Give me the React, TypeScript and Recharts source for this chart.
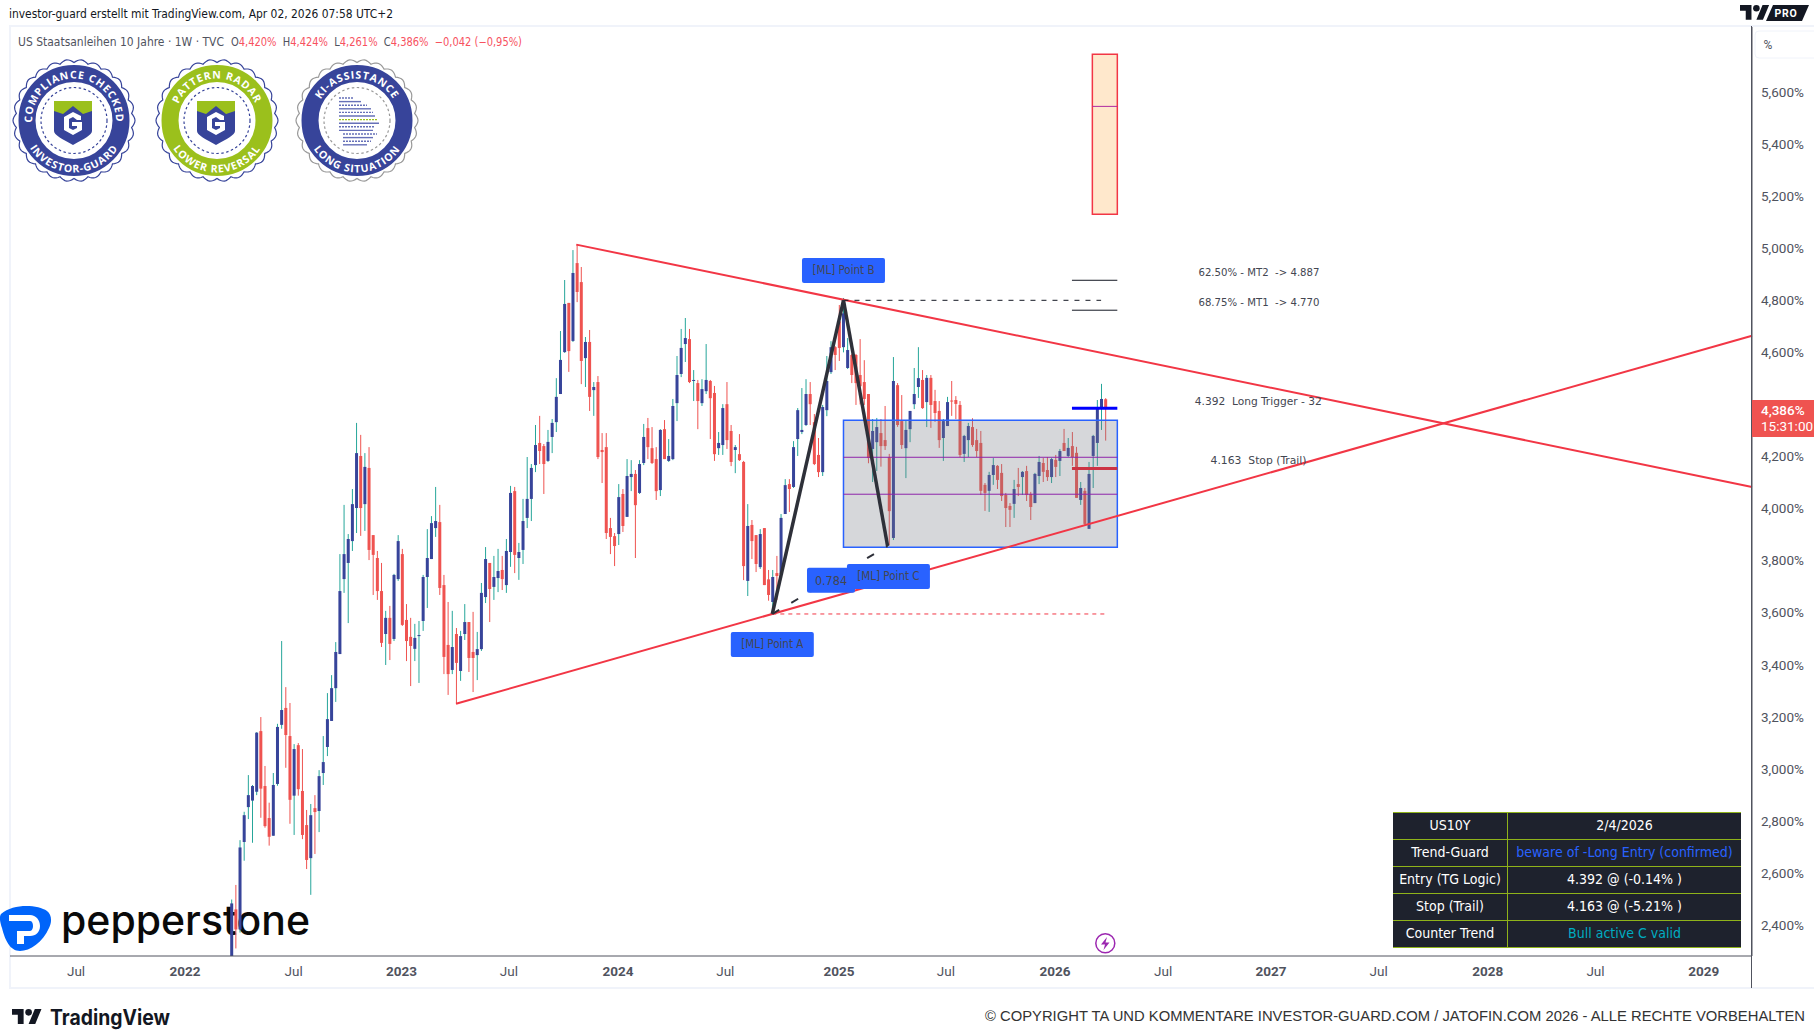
import {
  Bar,
  ComposedChart,
  ReferenceArea,
  ReferenceDot,
  ReferenceLine,
  XAxis,
  YAxis,
} from "recharts";

// weekly candles as [open, high, low, close]
const candles2022 = [
  [2.15, 2.498, 2.13, 2.483], [2.46, 2.554, 2.31, 2.383], [2.383, 2.726, 2.371, 2.698], [2.719, 2.835, 2.647, 2.822],
  [2.853, 2.976, 2.807, 2.899], [2.878, 2.938, 2.716, 2.934], [2.912, 3.141, 2.899, 3.139], [3.145, 3.199, 2.812, 2.924],
  [2.934, 3.011, 2.774, 2.78], [2.811, 2.87, 2.705, 2.739], [2.743, 2.984, 2.743, 2.938], [2.942, 3.173, 2.935, 3.161],
  [3.169, 3.491, 3.154, 3.226], [3.234, 3.314, 3.004, 3.13], [3.126, 3.253, 2.789, 2.881], [2.897, 3.095, 2.746, 3.076],
  [3.091, 3.099, 2.897, 2.922], [2.915, 3.076, 2.73, 2.746], [2.784, 2.842, 2.615, 2.65], [2.657, 2.865, 2.516, 2.822],
  [2.849, 2.899, 2.673, 2.834], [2.838, 2.995, 2.757, 2.972], [2.984, 3.126, 2.938, 3.026], [3.084, 3.291, 3.049, 3.191],
  [3.184, 3.36, 3.184, 3.31], [3.31, 3.487, 3.257, 3.449], [3.441, 3.825, 3.441, 3.683], [3.729, 4.014, 3.676, 3.825],
  [3.791, 3.902, 3.56, 3.883], [3.875, 4.075, 3.837, 4.017], [4.002, 4.329, 3.906, 4.213], [4.202, 4.283, 3.895, 4.002],
  [4.017, 4.213, 3.914, 4.16], [4.156, 4.236, 3.802, 3.841], [3.898, 3.898, 3.668, 3.822], [3.81, 3.837, 3.649, 3.683],
  [3.683, 3.791, 3.468, 3.484], [3.518, 3.607, 3.399, 3.58], [3.58, 3.626, 3.418, 3.48], [3.499, 3.749, 3.491, 3.745],
];
const candles2023 = [
  [3.729, 3.898, 3.722, 3.875], [3.825, 3.845, 3.549, 3.553], [3.572, 3.633, 3.414, 3.491], [3.507, 3.58, 3.318, 3.472],
  [3.461, 3.557, 3.414, 3.503], [3.51, 3.568, 3.33, 3.514], [3.568, 3.745, 3.53, 3.737], [3.737, 3.921, 3.618, 3.81],
  [3.806, 3.971, 3.806, 3.944], [3.925, 4.083, 3.891, 3.952], [3.948, 4.014, 3.668, 3.695], [3.706, 3.745, 3.364, 3.43],
  [3.476, 3.641, 3.284, 3.364], [3.38, 3.607, 3.364, 3.468], [3.518, 3.541, 3.249, 3.407], [3.376, 3.53, 3.338, 3.51],
  [3.518, 3.633, 3.495, 3.564], [3.564, 3.564, 3.372, 3.426], [3.449, 3.603, 3.295, 3.426], [3.437, 3.526, 3.341, 3.46],
  [3.46, 3.714, 3.453, 3.676], [3.66, 3.852, 3.637, 3.806], [3.791, 3.791, 3.564, 3.691], [3.699, 3.818, 3.649, 3.737],
  [3.733, 3.845, 3.679, 3.76], [3.764, 3.818, 3.687, 3.729], [3.706, 3.883, 3.676, 3.837], [3.833, 4.087, 3.776, 4.06],
  [4.067, 4.083, 3.752, 3.822], [3.81, 3.868, 3.726, 3.833], [3.841, 4.037, 3.787, 3.952], [3.964, 4.198, 3.925, 4.037],
  [4.037, 4.171, 3.952, 4.156], [4.167, 4.321, 4.14, 4.244], [4.252, 4.356, 4.171, 4.221], [4.24, 4.248, 4.056, 4.171],
  [4.183, 4.302, 4.179, 4.256], [4.275, 4.344, 4.213, 4.329], [4.332, 4.501, 4.294, 4.429], [4.44, 4.682, 4.44, 4.571],
  [4.601, 4.878, 4.598, 4.786], [4.79, 4.79, 4.525, 4.605], [4.644, 4.993, 4.64, 4.905], [4.943, 5.014, 4.793, 4.832],
  [4.87, 4.928, 4.478, 4.567], [4.578, 4.659, 4.467, 4.64], [4.64, 4.686, 4.375, 4.429], [4.455, 4.486, 4.356, 4.467],
  [4.486, 4.509, 4.19, 4.198], [4.225, 4.29, 4.098, 4.217], [4.236, 4.29, 3.883, 3.906], [3.925, 3.964, 3.825, 3.891],
];
const candles2024 = [
  [3.894, 3.906, 3.779, 3.856], [3.902, 4.094, 3.86, 4.044], [4.056, 4.075, 3.91, 3.933], [3.968, 4.19, 3.968, 4.125],
  [4.121, 4.186, 4.067, 4.133], [4.133, 4.148, 3.81, 4.013], [4.06, 4.186, 4.056, 4.171], [4.175, 4.325, 4.167, 4.275],
  [4.309, 4.348, 4.19, 4.236], [4.232, 4.313, 4.171, 4.175], [4.19, 4.236, 4.033, 4.067], [4.071, 4.305, 4.048, 4.302],
  [4.305, 4.34, 4.19, 4.19], [4.183, 4.267, 4.179, 4.202], [4.19, 4.421, 4.186, 4.394], [4.405, 4.586, 4.336, 4.513],
  [4.517, 4.69, 4.505, 4.617], [4.632, 4.732, 4.563, 4.655], [4.651, 4.69, 4.482, 4.486], [4.49, 4.532, 4.413, 4.494],
  [4.482, 4.494, 4.305, 4.413], [4.405, 4.497, 4.394, 4.459], [4.451, 4.632, 4.44, 4.494], [4.49, 4.494, 4.267, 4.424],
  [4.444, 4.471, 4.183, 4.209], [4.232, 4.294, 4.206, 4.252], [4.244, 4.401, 4.206, 4.386], [4.401, 4.486, 4.229, 4.263],
  [4.298, 4.321, 4.163, 4.179], [4.225, 4.244, 4.136, 4.236], [4.209, 4.286, 4.183, 4.186], [4.179, 4.183, 3.725, 3.779],
  [3.722, 4.017, 3.664, 3.933], [3.937, 3.956, 3.806, 3.875], [3.898, 3.898, 3.756, 3.787], [3.775, 3.921, 3.768, 3.902],
  [3.925, 3.925, 3.706, 3.706], [3.728, 3.764, 3.646, 3.668], [3.641, 3.764, 3.591, 3.737], [3.752, 3.818, 3.649, 3.741],
  [3.748, 3.979, 3.745, 3.964], [3.979, 4.113, 3.979, 4.09], [4.094, 4.113, 3.987, 4.075], [4.083, 4.259, 4.079, 4.236],
  [4.267, 4.386, 4.202, 4.378], [4.294, 4.463, 4.286, 4.302], [4.321, 4.497, 4.317, 4.44], [4.44, 4.486, 4.321, 4.401],
  [4.332, 4.363, 4.167, 4.171], [4.206, 4.271, 4.121, 4.14], [4.14, 4.398, 4.125, 4.39], [4.378, 4.586, 4.355, 4.49],
  [4.524, 4.643, 4.517, 4.62],
];
const candles2025 = [
  [4.62, 4.624, 4.532, 4.59], [4.719, 4.782, 4.567, 4.617], [4.62, 4.809, 4.6, 4.75], [4.54, 4.655, 4.536, 4.609],
  [4.59, 4.594, 4.482, 4.513], [4.59, 4.594, 4.398, 4.482], [4.513, 4.651, 4.4, 4.47], [4.486, 4.57, 4.398, 4.421],
  [4.44, 4.44, 4.174, 4.194], [4.229, 4.344, 4.102, 4.298], [4.255, 4.348, 4.144, 4.313], [4.29, 4.344, 4.161, 4.24],
  [4.263, 4.394, 4.225, 4.24], [4.197, 4.21, 3.86, 3.99], [3.887, 4.582, 3.879, 4.49], [4.474, 4.482, 4.314, 4.321],
  [4.336, 4.436, 4.229, 4.244], [4.232, 4.34, 4.117, 4.302], [4.305, 4.375, 4.255, 4.375], [4.401, 4.54, 4.382, 4.44],
  [4.467, 4.62, 4.425, 4.501], [4.494, 4.532, 4.383, 4.386], [4.409, 4.513, 4.313, 4.502], [4.502, 4.513, 4.31, 4.398],
  [4.413, 4.456, 4.333, 4.367], [4.375, 4.413, 4.233, 4.263], [4.271, 4.344, 4.183, 4.336], [4.317, 4.429, 4.317, 4.409],
  [4.415, 4.49, 4.356, 4.411], [4.417, 4.432, 4.344, 4.402], [4.398, 4.413, 4.198, 4.206], [4.21, 4.283, 4.179, 4.279],
  [4.263, 4.329, 4.198, 4.317], [4.313, 4.347, 4.237, 4.244], [4.263, 4.306, 4.198, 4.221], [4.252, 4.298, 4.052, 4.068],
  [4.091, 4.098, 3.991, 4.06], [4.068, 4.141, 3.987, 4.129], [4.129, 4.194, 4.091, 4.167], [4.164, 4.167, 4.075, 4.11],
  [4.137, 4.171, 4.029, 4.048], [4.052, 4.06, 3.929, 4.002], [4.01, 4.021, 3.929, 3.995], [4.018, 4.11, 3.964, 4.075],
  [4.094, 4.156, 4.048, 4.083], [4.121, 4.144, 4.052, 4.141], [4.144, 4.164, 4.029, 4.052], [4.056, 4.064, 3.956, 4.006],
  [4.021, 4.137, 4.021, 4.133], [4.125, 4.202, 4.094, 4.179], [4.175, 4.194, 4.102, 4.141], [4.148, 4.198, 4.106, 4.121],
];
const candles2026 = [
  [4.121, 4.194, 4.098, 4.19], [4.187, 4.206, 4.121, 4.16], [4.183, 4.229, 4.125, 4.221], [4.252, 4.306, 4.221, 4.221],
  [4.202, 4.271, 4.198, 4.233], [4.24, 4.294, 4.164, 4.198], [4.214, 4.237, 4.041, 4.041], [4.033, 4.102, 4.014, 4.079],
  [4.068, 4.079, 3.937, 3.941], [3.922, 4.179, 3.922, 4.133], [4.202, 4.283, 4.079, 4.279], [4.252, 4.417, 4.164, 4.383],
  [4.386, 4.479, 4.302, 4.421], [4.42, 4.424, 4.261, 4.386],
];

// 4,400% sits under the live price tag, so it isn't listed
const priceTicks = [2.4, 2.6, 2.8, 3, 3.2, 3.4, 3.6, 3.8, 4, 4.2, 4.6, 4.8, 5, 5.2, 5.4, 5.6];
const weekTicks = [-37.3, -11.1, 15, 40.9, 66.7, 92.9, 118.7, 146, 171.7, 197.9, 223.9, 249.8, 275.7, 301.9, 327.8, 353.8];
const weekTickLabels = ["Jul", "2022", "Jul", "2023", "Jul", "2024", "Jul", "2025", "Jul", "2026", "Jul", "2027", "Jul", "2028", "Jul", "2029"];

const weekDomain = [-53.17, 365.4];
const priceDomain = [2.281, 5.85];

// drawn objects, in [week, price]
const upperTrend = [[82.9, 5.014], [365.4, 4.083]];
const lowerTrend = [[54, 3.25], [365.4, 4.664]];
const pointA = [130, 3.595];
const pointB = [147.1, 4.8];
const pointC = [157.7, 3.856];
const tradeBox = { from: 147.1, to: 212.9, top: 4.339, bottom: 3.851, lines: [4.197, 4.055] };
const targetBox = { from: 206.9, to: 212.9, top: 5.745, bottom: 5.131, mid: 5.545 };
const targets = [4.877, 4.762];
const targetSpan = [202, 212.9];
const triggerLevel = 4.385;
const stopLevel = 4.154;
const levelSpan = [202, 212.9];

const blueTags = [
  { week: 130, price: 3.478, text: "[ML] Point A", w: 83, size: 11.5 },
  { week: 147.1, price: 4.915, text: "[ML] Point B", w: 83, size: 11.5 },
  { week: 144.1, price: 3.725, text: "0.784", w: 48, size: 12.5 },
  { week: 157.9, price: 3.739, text: "[ML] Point C", w: 83, size: 11.5 },
];
const sideNotes = [
  { week: 232.4, price: 4.906, text: "62.50% - MT2  -> 4.887", len: 121 },
  { week: 232.4, price: 4.791, text: "68.75% - MT1  -> 4.770", len: 121 },
  { week: 231.5, price: 4.413, text: "4.392  Long Trigger - 32", len: 127 },
  { week: 235.3, price: 4.184, text: "4.163  Stop (Trail)", len: 96 },
];

const tableRows = [
  { name: "US10Y", value: "2/4/2026", color: "#ffffff" },
  { name: "Trend-Guard", value: "beware of -Long Entry (confirmed)", color: "#2962ff" },
  { name: "Entry (TG Logic)", value: "4.392 @ (-0.14% )", color: "#ffffff" },
  { name: "Stop (Trail)", value: "4.163 @ (-5.21% )", color: "#ffffff" },
  { name: "Counter Trend", value: "Bull active C valid", color: "#00acc1" },
];

const candleRows = [...candles2022, ...candles2023, ...candles2024, ...candles2025, ...candles2026].map((c, i) => ({
  week: i,
  open: c[0],
  high: c[1],
  low: c[2],
  close: c[3],
  range: [c[2], c[1]],
}));

const UI_FONT = "'DejaVu Sans Condensed', 'DejaVu Sans', sans-serif";
const AXIS_FONT = "Roboto, sans-serif";
const RED = "#f23645";
const UP_BODY = "#37449a";
const UP_WICK = "#26a69a";
const DOWN = "#ef5350";
const AXIS = "#50535e";
const WAVE = "#2e3039";

function Candle(props: any) {
  const { x, y, width, height, payload } = props;
  const up = payload.close >= payload.open;
  const mid = x + width / 2;
  const perUnit = height / (payload.high - payload.low);
  const bodyTop = y + (payload.high - Math.max(payload.open, payload.close)) * perUnit;
  const bodyH = Math.max(1, Math.abs(payload.close - payload.open) * perUnit);
  return (
    <g>
      <line x1={mid} x2={mid} y1={y} y2={y + height} stroke={up ? UP_WICK : DOWN} strokeWidth={1} />
      <rect x={mid - 1.5} y={bodyTop} width={3} height={bodyH} fill={up ? UP_BODY : DOWN} />
    </g>
  );
}

function WeekTick(props: any) {
  const { x, y, payload } = props;
  const i = weekTicks.indexOf(payload.value);
  const label = weekTickLabels[i];
  const isYear = label !== "Jul";
  return (
    <text x={x} y={y + 8} textAnchor="middle" fill={AXIS} fontSize={13.5} fontFamily={AXIS_FONT} fontWeight={isYear ? 700 : 400} dominantBaseline="middle">
      {label}
    </text>
  );
}

function BlueTag(props: any) {
  const { cx, cy, tag } = props;
  return (
    <g>
      <rect x={cx - tag.w / 2} y={cy - 12.5} width={tag.w} height={25} rx={2} fill="#2962ff" />
      <text x={cx} y={cy} textAnchor="middle" dominantBaseline="central" fill="#434651" fontSize={tag.size} fontFamily={UI_FONT}>
        {tag.text}
      </text>
    </g>
  );
}

function SideNote(props: any) {
  const { cx, cy, note } = props;
  return (
    <text x={cx} y={cy} dominantBaseline="central" fill="#434651" fontSize={11} fontFamily={UI_FONT} textLength={note.len} lengthAdjust="spacingAndGlyphs" xmlSpace="preserve">
      {note.text}
    </text>
  );
}

function scallopPath(cx: number, cy: number, r: number, bumps: number, amp: number) {
  let d = "";
  for (let i = 0; i <= bumps * 8; i++) {
    const a = (i / (bumps * 8)) * Math.PI * 2;
    const rr = r + amp * Math.abs(Math.cos((a * bumps) / 2));
    d += (i === 0 ? "M" : "L") + (cx + rr * Math.cos(a)).toFixed(1) + " " + (cy + rr * Math.sin(a)).toFixed(1);
  }
  return d + "Z";
}

function Shield({ cx, cy }: { cx: number; cy: number }) {
  return (
    <g transform={`translate(${cx - 20} ${cy - 22})`}>
      <path d="M0 0H38V30C38 34 30 38 19 44C8 38 0 34 0 30Z" fill="#37449a" />
      <path d="M0 0H38V10L29 13L19 5L9 13L0 10Z" fill="#9bc01c" />
      <path d="M27 19V15L19 11L10 16V29L19 34L28 29V21H18V25H23V27L19 29L15 27V18L19 16L23 19Z" fill="#ffffff" />
    </g>
  );
}

function Badge({ cx, cy, ring, edge, dash, top, bottom, idx, children }: any) {
  return (
    <g>
      <path d={scallopPath(cx, cy, 58, 26, 3)} fill="#ffffff" stroke={edge} strokeWidth={1.2} />
      <circle cx={cx} cy={cy} r={47} fill="none" stroke={ring} strokeWidth={17} />
      <circle cx={cx} cy={cy} r={33} fill="none" stroke={dash} strokeWidth={1.2} strokeDasharray="2.5 2.5" />
      <path id={`top${idx}`} d={`M${cx - 42} ${cy} A42 42 0 0 1 ${cx + 42} ${cy}`} fill="none" />
      <path id={`bot${idx}`} d={`M${cx - 52} ${cy} A52 52 0 0 0 ${cx + 52} ${cy}`} fill="none" />
      <text fill="#ffffff" fontSize={10.5} fontWeight={700} fontFamily="'Open Sans', sans-serif" letterSpacing={0.9} textAnchor="middle">
        <textPath href={`#top${idx}`} startOffset="50%">{top}</textPath>
      </text>
      <text fill="#ffffff" fontSize={10.5} fontWeight={700} fontFamily="'Open Sans', sans-serif" letterSpacing={0.9} textAnchor="middle">
        <textPath href={`#bot${idx}`} startOffset="50%">{bottom}</textPath>
      </text>
      {children}
    </g>
  );
}

const headWidths = [14, 22, 28, 32, 34, 36, 38, 40, 36, 34, 34, 30, 28, 24];

function HeadLines({ cx, cy }: { cx: number; cy: number }) {
  return (
    <g>
      {headWidths.map((w, i) => (
        <line key={i} x1={cx - 18 + (i > 9 ? 4 : 0)} x2={cx - 18 + (i > 9 ? 4 : 0) + w} y1={cy - 24 + i * 3.6} y2={cy - 24 + i * 3.6}
          stroke={i === 6 ? "#9bc01c" : "#6670b8"} strokeWidth={1.4} strokeDasharray={i % 2 ? "none" : "2 1"} />
      ))}
    </g>
  );
}

function TvMark({ x, y, scale }: { x: number; y: number; scale: number }) {
  return (
    <g transform={`translate(${x} ${y}) scale(${scale})`} fill="#131722">
      <path d="M14 18H7V7H0V0h14v18zM28 18h-8L27.5 0h8L28 18z" />
      <circle cx={20} cy={4} r={4} />
    </g>
  );
}

export default function App() {
  return (
    <div style={{ position: "absolute", left: 0, top: 0, width: 1814, height: 1035, background: "#ffffff", overflow: "hidden" }}>
      {/* frame + logo sit behind the chart */}
      <div style={{ position: "absolute", left: 9, top: 25, width: 1808, height: 964, border: "2px solid #f0f3fa", boxSizing: "border-box" }} />
      <svg width={1814} height={1035} style={{ position: "absolute", left: 0, top: 0 }}>
        <path d="M1 914C14 903 38 905 47 911C52 915 52 922 49 928C43 942 30 951 20 951C10 951 5 940 2 928C0 922 -1 917 1 914Z" fill="#0064fa" />
        <path d="M9 915H30C36 915 40 920 40 926C40 932 36 936 30 936H24V944H17V931H30C32 931 33 928 33 926C33 923 32 921 30 921H9Z" fill="#ffffff" />
        <text x={61} y={935} fontFamily="Inter, sans-serif" fontWeight={500} fontSize={41} fill="#0a0a0a" textLength={249} lengthAdjust="spacingAndGlyphs">pepperstone</text>
      </svg>

      <div style={{ position: "absolute", left: 0, top: 0 }}>
        <ComposedChart width={1814} height={1035} data={candleRows} margin={{ top: 27, right: 0, bottom: 48, left: 10 }}>
          <XAxis
            dataKey="week"
            type="number"
            domain={weekDomain}
            allowDataOverflow
            ticks={weekTicks}
            interval={0}
            height={31}
            stroke={AXIS}
            tickLine={false}
            tick={<WeekTick />}
          />
          <YAxis
            orientation="right"
            type="number"
            domain={priceDomain}
            allowDataOverflow
            ticks={priceTicks}
            interval={0}
            width={62}
            stroke={AXIS}
            tickLine={false}
            tickSize={0}
            tickMargin={9}
            tick={{ fill: AXIS, fontSize: 13.5, fontFamily: AXIS_FONT }}
            tickFormatter={(v) => v.toFixed(3).replace(".", ",") + "%"}
          />

          <Bar dataKey="range" barSize={3} shape={<Candle />} isAnimationActive={false} />

          <ReferenceArea x1={tradeBox.from} x2={tradeBox.to} y1={tradeBox.bottom} y2={tradeBox.top} fill="#787b86" fillOpacity={0.3} stroke="#2962ff" strokeWidth={1.5} zIndex={500} />
          {tradeBox.lines.map((p) => (
            <ReferenceLine key={p} segment={[{ x: tradeBox.from, y: p }, { x: tradeBox.to, y: p }]} stroke="#8e24aa" strokeWidth={1} zIndex={510} />
          ))}
          <ReferenceArea x1={targetBox.from} x2={targetBox.to} y1={targetBox.bottom} y2={targetBox.top} fill="#ffe8cc" fillOpacity={1} stroke={RED} strokeWidth={1.5} zIndex={500} />
          <ReferenceLine segment={[{ x: targetBox.from, y: targetBox.mid }, { x: targetBox.to, y: targetBox.mid }]} stroke="#b02aa0" strokeWidth={1} zIndex={510} />

          <ReferenceLine segment={upperTrend.map(([x, y]) => ({ x, y }))} stroke={RED} strokeWidth={2} zIndex={520} />
          <ReferenceLine segment={lowerTrend.map(([x, y]) => ({ x, y }))} stroke={RED} strokeWidth={2} zIndex={520} />

          <ReferenceLine segment={[{ x: pointA[0], y: pointA[1] }, { x: 210, y: pointA[1] }]} stroke={RED} strokeWidth={1} strokeDasharray="4 4" zIndex={520} />
          <ReferenceLine segment={[{ x: pointB[0], y: pointB[1] }, { x: 209, y: pointB[1] }]} stroke="#131722" strokeWidth={1} strokeDasharray="5 6" zIndex={520} />
          <ReferenceLine segment={[{ x: pointA[0], y: pointA[1] }, { x: pointC[0], y: pointC[1] }]} stroke={WAVE} strokeWidth={2} strokeDasharray="8 14" zIndex={520} />
          <ReferenceLine segment={[{ x: pointA[0], y: pointA[1] }, { x: pointB[0], y: pointB[1] }]} stroke={WAVE} strokeWidth={3.5} zIndex={530} />
          <ReferenceLine segment={[{ x: pointB[0], y: pointB[1] }, { x: pointC[0], y: pointC[1] }]} stroke={WAVE} strokeWidth={3.5} zIndex={530} />

          {targets.map((p) => (
            <ReferenceLine key={p} segment={[{ x: targetSpan[0], y: p }, { x: targetSpan[1], y: p }]} stroke="#131722" strokeWidth={1} zIndex={520} />
          ))}
          <ReferenceLine segment={[{ x: levelSpan[0], y: triggerLevel }, { x: levelSpan[1], y: triggerLevel }]} stroke="#0000ff" strokeWidth={3} zIndex={530} />
          <ReferenceLine segment={[{ x: levelSpan[0], y: stopLevel }, { x: levelSpan[1], y: stopLevel }]} stroke="#cc3344" strokeWidth={3} zIndex={530} />

          {blueTags.map((t) => (
            <ReferenceDot key={t.text} x={t.week} y={t.price} r={0} shape={<BlueTag tag={t} />} zIndex={540} />
          ))}
          {sideNotes.map((n) => (
            <ReferenceDot key={n.text} x={n.week} y={n.price} r={0} shape={<SideNote note={n} />} zIndex={540} />
          ))}
        </ComposedChart>
      </div>

      {/* everything that is not part of the plot */}
      <svg width={1814} height={1035} style={{ position: "absolute", left: 0, top: 0, pointerEvents: "none" }}>
        <text x={9} y={18} fontFamily={UI_FONT} fontSize={12} fill="#131722" textLength={384} lengthAdjust="spacingAndGlyphs">
          investor-guard erstellt mit TradingView.com, Apr 02, 2026 07:58 UTC+2
        </text>
        <text x={18} y={46} fontFamily={UI_FONT} fontSize={11.5} fill="#50535e" textLength={206} lengthAdjust="spacingAndGlyphs">
          US Staatsanleihen 10 Jahre · 1W · TVC
        </text>
        <text x={231} y={46} fontFamily={UI_FONT} fontSize={11.5} fill="#f7525f" textLength={291} lengthAdjust="spacingAndGlyphs" xmlSpace="preserve">
          <tspan fill="#50535e">O</tspan>4,420%  <tspan fill="#50535e">H</tspan>4,424%  <tspan fill="#50535e">L</tspan>4,261%  <tspan fill="#50535e">C</tspan>4,386%  −0,042 (−0,95%)
        </text>

        <Badge cx={74} cy={120.5} ring="#37449a" edge="#37449a" dash="#37449a" top="COMPLIANCE CHECKED" bottom="INVESTOR-GUARD" idx={1}>
          <Shield cx={74} cy={123} />
        </Badge>
        <Badge cx={217} cy={120.5} ring="#9bc01c" edge="#37449a" dash="#37449a" top="PATTERN RADAR" bottom="LOWER REVERSAL" idx={2}>
          <Shield cx={217} cy={123} />
        </Badge>
        <Badge cx={357} cy={120.5} ring="#37449a" edge="#999999" dash="#999999" top="KI-ASSISTANCE" bottom="LONG SITUATION" idx={3}>
          <HeadLines cx={357} cy={122} />
        </Badge>

        <line x1={1751.5} x2={1751.5} y1={26} y2={988} stroke={AXIS} strokeWidth={1} />
        <rect x={1755} y={31} width={70} height={27} rx={4} fill="#ffffff" stroke="#f0f3fa" />
        <text x={1768} y={49} textAnchor="middle" fontFamily={AXIS_FONT} fontSize={12} fill={AXIS}>%</text>

        <TvMark x={1740} y={5} scale={0.82} />
        <path d="M1773 5H1809L1802 21H1766Z" fill="#131722" />
        <text x={1786} y={17} textAnchor="middle" fontFamily={AXIS_FONT} fontWeight={700} fontSize={10.5} fill="#ffffff" letterSpacing={0.8}>PRO</text>

        <rect x={1752} y={400} width={62} height={37} fill={DOWN} />
        <text x={1761} y={415} fontFamily={AXIS_FONT} fontSize={13.5} fontWeight={500} fill="#ffffff">4,386%</text>
        <text x={1761} y={431} fontFamily={AXIS_FONT} fontSize={13.5} fill="#ffffff">15:31:00</text>

        <circle cx={1105.3} cy={943.3} r={9.5} fill="#ffffff" stroke="#9c27b0" strokeWidth={1.5} />
        <path d="M1107 937L1101 944.5H1105L1103.5 950L1109.5 942.5H1105.5Z" fill="#9c27b0" />

        <TvMark x={12} y={1009} scale={0.83} />
        <text x={50} y={1025} fontFamily="Inter, sans-serif" fontWeight={700} fontSize={21} fill="#131722" textLength={120} lengthAdjust="spacingAndGlyphs">TradingView</text>
        <text x={1805} y={1021} textAnchor="end" fontFamily="'Liberation Sans', Arial, sans-serif" fontSize={15.5} fill="#333333" textLength={820} lengthAdjust="spacingAndGlyphs">
          © COPYRIGHT TA UND KOMMENTARE INVESTOR-GUARD.COM / JATOFIN.COM 2026 - ALLE RECHTE VORBEHALTEN
        </text>
      </svg>

      <table style={{ position: "absolute", left: 1393, top: 812, width: 348, height: 134, borderCollapse: "collapse", background: "#1e222d", fontFamily: UI_FONT, fontSize: 14, tableLayout: "fixed" }}>
        <tbody>
          {tableRows.map((r) => (
            <tr key={r.name} style={{ height: 27 }}>
              <td style={{ width: 114, padding: "0 0 3px 0", textAlign: "center", color: "#ffffff", border: "1px solid #8fb31a", borderLeft: "none", whiteSpace: "nowrap" }}>{r.name}</td>
              <td style={{ padding: "0 0 3px 0", textAlign: "center", color: r.color, border: "1px solid #8fb31a", borderRight: "none", whiteSpace: "nowrap" }}>{r.value}</td>
            </tr>
          ))}
        </tbody>
      </table>
    </div>
  );
}
